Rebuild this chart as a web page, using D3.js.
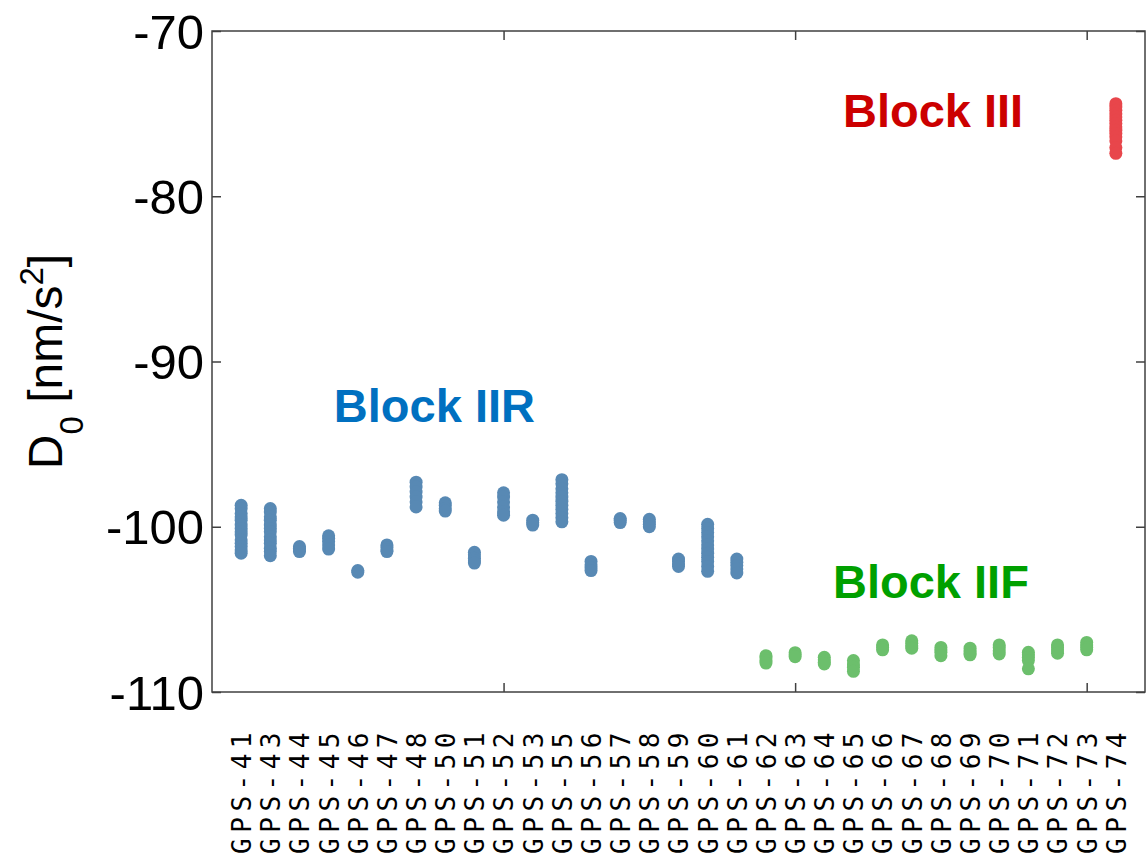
<!DOCTYPE html>
<html>
<head>
<meta charset="utf-8">
<script src="https://cdnjs.cloudflare.com/ajax/libs/d3/7.8.5/d3.min.js"></script>
<style>
	body { margin: 0; background: #fff; }
	svg { display: block; }
</style>
</head>
<body>
<svg id="chart"></svg>
<script>
	// satellites on the x axis
	var categories = ["GPS-41","GPS-43","GPS-44","GPS-45","GPS-46","GPS-47","GPS-48","GPS-50",
		"GPS-51","GPS-52","GPS-53","GPS-55","GPS-56","GPS-57","GPS-58","GPS-59","GPS-60","GPS-61",
		"GPS-62","GPS-63","GPS-64","GPS-65","GPS-66","GPS-67","GPS-68","GPS-69","GPS-70","GPS-71",
		"GPS-72","GPS-73","GPS-74"];

	// block of each satellite
	var blocks = ["IIR","IIR","IIR","IIR","IIR","IIR","IIR","IIR","IIR","IIR","IIR","IIR","IIR",
		"IIR","IIR","IIR","IIR","IIR","IIF","IIF","IIF","IIF","IIF","IIF","IIF","IIF","IIF","IIF",
		"IIF","IIF","III"];

	// D0 estimates per satellite [nm/s^2]
	var d0Values = [
		[-98.7,-98.9,-99.2,-99.4,-99.6,-99.9,-100.1,-100.3,-100.5,-100.8,-101.0,-101.2,-101.4,-101.6],
		[-98.9,-99.1,-99.4,-99.6,-99.9,-100.1,-100.3,-100.6,-100.8,-101.0,-101.3,-101.5,-101.75],
		[-101.2,-101.3,-101.4,-101.5],
		[-100.55,-100.7,-100.9,-101.1,-101.35],
		[-102.65,-102.75],
		[-101.1,-101.25,-101.4,-101.5],
		[-97.3,-97.6,-97.9,-98.2,-98.5,-98.8],
		[-98.55,-98.7,-98.9,-99.05],
		[-101.55,-101.7,-101.9,-102.05,-102.2],
		[-97.95,-98.2,-98.5,-98.8,-99.1,-99.3],
		[-99.6,-99.75,-99.9],
		[-97.15,-97.4,-97.7,-97.95,-98.2,-98.45,-98.7,-98.95,-99.2,-99.45,-99.7],
		[-102.1,-102.3,-102.5,-102.65],
		[-99.5,-99.6,-99.75],
		[-99.55,-99.7,-99.85,-100.0],
		[-101.95,-102.1,-102.25,-102.4],
		[-99.85,-100.1,-100.35,-100.6,-100.85,-101.1,-101.35,-101.6,-101.85,-102.1,-102.4,-102.7],
		[-101.95,-102.15,-102.35,-102.55,-102.8],
		[-107.8,-107.95,-108.1,-108.25],
		[-107.62,-107.75,-107.86],
		[-107.9,-108.05,-108.2,-108.3],
		[-108.1,-108.3,-108.5,-108.75],
		[-107.15,-107.3,-107.45],
		[-106.9,-107.05,-107.2,-107.35],
		[-107.3,-107.45,-107.6,-107.8],
		[-107.35,-107.5,-107.65,-107.75],
		[-107.15,-107.3,-107.5,-107.7],
		[-107.6,-107.75,-107.9,-108.1,-108.6],
		[-107.15,-107.3,-107.45,-107.65],
		[-107.0,-107.15,-107.3,-107.45],
		[-74.4,-74.6,-74.8,-75.0,-75.2,-75.4,-75.6,-75.8,-76.0,-76.2,-76.4,-76.65,-77.05,-77.4]
	];

	var yTicks = [-110, -100, -90, -80, -70];
	var xTicks = [10, 20, 30];

	var svgWidth = 1146;
	var svgHeight = 855;
	// plot box (window.top is reserved, so no plain "top")
	var boxL = 212, boxR = 1145, boxT = 31, boxB = 692;
	var tickLen = 9;
	var axisColor = "#404040";

	var markerColor = { "IIR": "#5889b4", "IIF": "#6cbf6c", "III": "#e8464b" };
	var labelColor = { "IIR": "#0070c0", "IIF": "#00a000", "III": "#cc0000" };

	// block annotations, in data units (x = satellite index)
	var notes = [
		{ block: "IIR", text: "Block IIR", x: 4.18, y: -93.66 },
		{ block: "III", text: "Block III", x: 21.64, y: -75.81 },
		{ block: "IIF", text: "Block IIF", x: 21.3, y: -104.31 }
	];

	var svg = d3.select("#chart")
		.attr("width", svgWidth)
		.attr("height", svgHeight);

	var xScale = d3.scaleLinear()
		.domain([0, 32])
		.range([boxL, boxR]);

	var yScale = d3.scaleLinear()
		.domain([-110, -70])
		.range([boxB, boxT]);

	// points: one circle per estimate
	var points = [];
	d0Values.forEach(function(vals, i) {
		vals.forEach(function(v) {
			points.push({ idx: i + 1, value: v, block: blocks[i] });
		});
	});

	svg.append("g")
		.selectAll("circle")
		.data(points)
		.enter()
		.append("circle")
		.attr("cx", function(d) { return xScale(d.idx); })
		.attr("cy", function(d) { return yScale(d.value); })
		.attr("r", 6.5)
		.attr("fill", function(d) { return markerColor[d.block]; });

	// frame
	svg.append("rect")
		.attr("x", boxL)
		.attr("y", boxT)
		.attr("width", boxR - boxL)
		.attr("height", boxB - boxT)
		.attr("fill", "none")
		.attr("stroke", axisColor)
		.attr("stroke-width", 1.5);

	// x ticks bottom / top (inward)
	var xAxisB = d3.axisBottom(xScale).tickValues(xTicks).tickSize(-tickLen).tickFormat("");
	var xAxisT = d3.axisTop(xScale).tickValues(xTicks).tickSize(-tickLen).tickFormat("");
	svg.append("g").attr("class", "x axis nolabel")
		.attr("transform", "translate(0," + boxB + ")")
		.call(xAxisB);
	svg.append("g").attr("class", "x axis nolabel")
		.attr("transform", "translate(0," + boxT + ")")
		.call(xAxisT);

	// y ticks left with labels, right without
	var yAxisL = d3.axisLeft(yScale).tickValues(yTicks).tickSize(-tickLen).tickPadding(8)
		.tickFormat(d3.format("d"));
	var yAxisR = d3.axisRight(yScale).tickValues(yTicks).tickSize(-tickLen).tickFormat("");
	svg.append("g").attr("class", "y axis")
		.attr("transform", "translate(" + boxL + ",0)")
		.call(yAxisL);
	svg.append("g").attr("class", "y axis nolabel")
		.attr("transform", "translate(" + boxR + ",0)")
		.call(yAxisR);

	svg.selectAll(".axis .domain").remove();
	svg.selectAll(".nolabel .tick text").remove();
	svg.selectAll(".axis .tick line")
		.attr("stroke", axisColor)
		.attr("stroke-width", 1.5);
	svg.selectAll(".y.axis .tick text")
		.attr("font-family", "'Liberation Sans', Arial, sans-serif")
		.attr("font-size", "49px")
		.attr("fill", "#000")
		.attr("dy", "0.35em")
		.text(function(d) { return d; });

	// satellite names, rotated
	var nameAxis = d3.axisBottom(xScale)
		.tickValues(d3.range(1, categories.length + 1))
		.tickSize(0)
		.tickFormat(function(i) { return categories[i - 1]; });
	var names = svg.append("g").attr("class", "names")
		.attr("transform", "translate(0," + (boxB + 35) + ")")
		.call(nameAxis);
	names.select(".domain").remove();
	names.selectAll("text")
		.attr("font-family", "'DejaVu Sans Mono', monospace")
		.attr("font-size", "26px")
		.attr("letter-spacing", "5.5px")
		.attr("fill", "#000")
		.attr("transform", "rotate(-90)")
		.attr("text-anchor", "end")
		.attr("x", 0)
		.attr("y", 0)
		.attr("dy", "0.36em");

	// y label D0 [nm/s2]
	var yLabel = svg.append("text")
		.attr("transform", "translate(62," + ((boxT + boxB) / 2) + ") rotate(-90)")
		.attr("text-anchor", "middle")
		.attr("font-family", "'Liberation Sans', Arial, sans-serif")
		.attr("font-size", "48px")
		.attr("fill", "#000");
	yLabel.append("tspan").text("D");
	yLabel.append("tspan").attr("font-size", "33px").attr("dy", 21).text("0");
	yLabel.append("tspan").attr("dy", -21).text(" [nm/s");
	yLabel.append("tspan").attr("font-size", "33px").attr("dy", -19).text("2");
	yLabel.append("tspan").attr("dy", 19).text("]");

	// block annotations
	svg.selectAll(".note")
		.data(notes)
		.enter()
		.append("text")
		.attr("class", "note")
		.attr("x", function(d) { return xScale(d.x); })
		.attr("y", function(d) { return yScale(d.y); })
		.attr("font-family", "'Liberation Sans', Arial, sans-serif")
		.attr("font-weight", "bold")
		.attr("font-size", "47px")
		.attr("fill", function(d) { return labelColor[d.block]; })
		.text(function(d) { return d.text; });
</script>
</body>
</html>
